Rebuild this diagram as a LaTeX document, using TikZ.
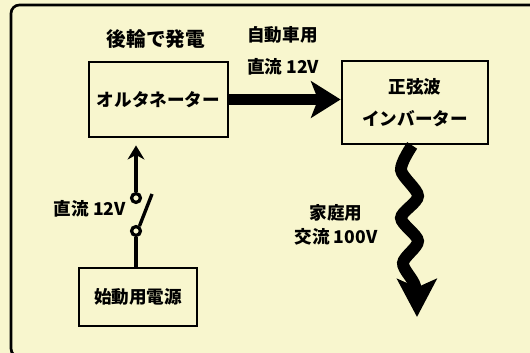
\documentclass[tikz,border=0pt]{standalone}
\usepackage{fontspec}
\newfontfamily\cjk{Noto Sans CJK JP}
\usetikzlibrary{arrows.meta}
\definecolor{paper}{RGB}{248,246,206}
\tikzset{
  jp/.style={font=\cjk\bfseries\fontsize{12.5}{22.5}\selectfont, align=center, inner sep=0pt},
  box/.style={jp, draw, line width=2pt, fill=paper},
  swdot/.style={circle, draw, line width=2.3pt, fill=paper, inner sep=0pt, minimum size=6.3pt}
}
\begin{document}
\begin{tikzpicture}[x=0.025cm, y=-0.025cm, >=latex]
    \useasboundingbox (0,0) rectangle (530,353);
    \fill[paper] (0,0) rectangle (530,353);
    \begin{scope}
      \clip (0,0) rectangle (530,353);
      \draw[line width=1.9pt, rounded corners=6pt] (11,5) rectangle (560,357);
    \end{scope}
    % boxes
    \node[box, minimum width=3.475cm, minimum height=1.875cm] (alt) at (158.5,99.5) {オルタネーター};
    \node[box, minimum width=3.65cm, minimum height=2.075cm] (inv) at (415,102.5) {正弦波\\インバーター};
    \node[box, minimum width=2.95cm, minimum height=1.45cm] (start) at (138,297) {始動用電源};
    % labels
    \node[jp, font=\cjk\bfseries\fontsize{14}{17}\selectfont] (gen) at (156,39) {後輪で発電};
    \node[jp, align=left, anchor=west] (dc) at (247,51) {自動車用\\直流 12V};
    \node[jp, anchor=east] (swlabel) at (126,209) {直流 12V};
    \node[jp, font=\cjk\bfseries\fontsize{12.5}{17}\selectfont] (ac) at (336,225) {家庭用\\交流 100V};
    % thick arrow
    \draw[line width=7.8pt, -{Stealth[length=21pt,width=26pt,inset=5pt]}] (alt.east) -- (alt.east -| inv.west);
    % switch
    \node[swdot] (s1) at (136,198) {};
    \node[swdot] (s2) at (136,231) {};
    \coordinate (lever) at (152,194);
    \draw[line width=2.4pt] (s2.55) -- (lever);
    \draw[line width=2.8pt, -{Stealth[length=10pt,width=12pt]}, shorten >=5pt] (s1.north) -- (s1 |- alt.south);
    \draw[line width=2.8pt] (s2.south) -- (s2 |- start.north);
    % wavy arrow
    \coordinate (tip) at (417,317);
    \draw[line width=8.5pt, -{Stealth[length=27pt,width=28pt,inset=6pt]}] plot[smooth] coordinates{([xshift=-2pt]inv.south) (401,170) (418,196) (401,218) (418,241) (403,263) (415,286) (tip)};
\end{tikzpicture}
\end{document}
